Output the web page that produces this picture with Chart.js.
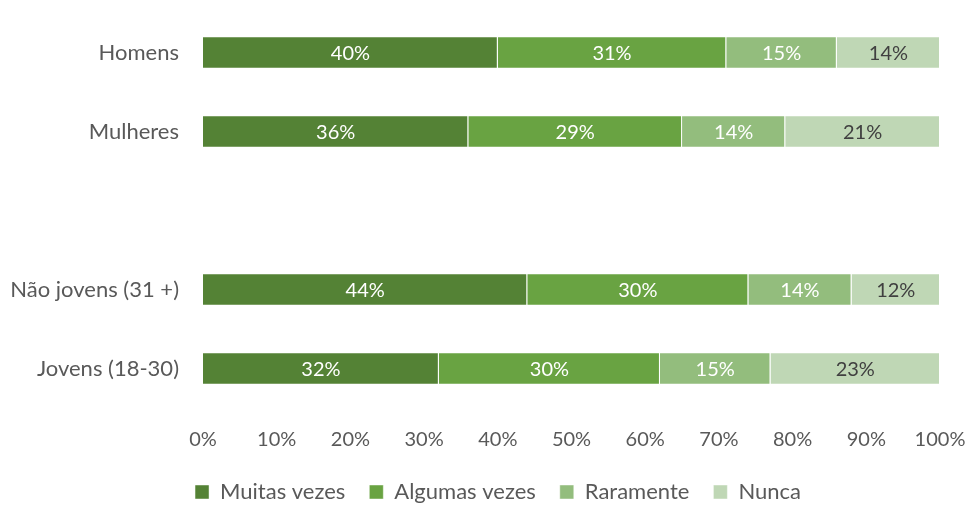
<!DOCTYPE html>
<html>
<head>
<meta charset="utf-8">
<script src="https://cdn.jsdelivr.net/npm/chart.js@4"></script>
<style>
  html, body { margin: 0; padding: 0; background: #fff; }
  #wrap { width: 971px; height: 505px; }
</style>
</head>
<body>
<div id="wrap"><canvas id="grafico"></canvas></div>
<script>
// grupos (a linha vazia separa sexo de idade)
const grupos = ['Homens', 'Mulheres', '', 'Não jovens (31 +)', 'Jovens (18-30)'];
const rotulosSeries = ['Muitas vezes', 'Algumas vezes', 'Raramente', 'Nunca'];

// percentagens por resposta
const muitasVezes   = [40, 36, null, 44, 32];
const algumasVezes  = [31, 29, null, 30, 30];
const raramente     = [15, 14, null, 14, 15];
const nunca         = [14, 21, null, 12, 23];

const ticksX = [0, 10, 20, 30, 40, 50, 60, 70, 80, 90, 100];

const cores = ['#548235', '#69A342', '#93BD7D', '#BFD7B5'];
const coresTexto = ['#ffffff', '#ffffff', '#ffffff', '#404040'];
const fonte = 'Lato, "Open Sans", sans-serif';

// escreve o valor no meio de cada segmento
const rotulosBarras = {
  id: 'rotulosBarras',
  afterDatasetsDraw(chart) {
    const ctx = chart.ctx;
    ctx.save();
    ctx.font = '20px ' + fonte;
    ctx.textAlign = 'center';
    ctx.textBaseline = 'middle';
    chart.data.datasets.forEach((ds, i) => {
      const meta = chart.getDatasetMeta(i);
      meta.data.forEach((bar, j) => {
        const v = ds.data[j];
        if (v == null) return;
        ctx.fillStyle = coresTexto[i];
        ctx.fillText(v + '%', (bar.x + bar.base) / 2, bar.y + 1);
      });
    });
    ctx.restore();
  }
};

// centra a legenda um pouco mais à direita
const legendaDeslocada = {
  id: 'legendaDeslocada',
  afterLayout(chart) {
    chart.legend.left += 28;
    chart.legend.right += 28;
  }
};

const series = [muitasVezes, algumasVezes, raramente, nunca];

new Chart(document.getElementById('grafico'), {
  type: 'bar',
  data: {
    labels: grupos,
    datasets: series.map((d, i) => ({
      label: rotulosSeries[i],
      data: d,
      backgroundColor: cores[i],
      borderColor: 'rgba(255,255,255,0.45)',
      borderWidth: 1,
      categoryPercentage: 1,
      barPercentage: 0.41
    }))
  },
  options: {
    indexAxis: 'y',
    responsive: true,
    maintainAspectRatio: false,
    animation: false,
    layout: { padding: { top: 13, right: 31, left: 0, bottom: -8 } },
    scales: {
      x: {
        stacked: true,
        min: 0,
        max: 100,
        afterBuildTicks: s => { s.ticks = ticksX.map(v => ({ value: v })); },
        afterFit: s => { s.height = 49; s.paddingLeft = 0; s.paddingRight = 0; },
        grid: { display: false, drawTicks: false },
        border: { display: false },
        ticks: {
          color: '#595959',
          font: { family: fonte, size: 20 },
          padding: 20,
          maxRotation: 0,
          callback: v => v + '%'
        }
      },
      y: {
        stacked: true,
        grid: { display: false, drawTicks: false },
        border: { display: false },
        afterFit: s => { s.width = 203; s.paddingTop = 0; s.paddingBottom = 0; },
        ticks: {
          color: '#595959',
          font: { family: fonte, size: 22 },
          padding: 24
        }
      }
    },
    plugins: {
      legend: {
        position: 'bottom',
        labels: {
          color: '#595959',
          font: { family: fonte, size: 22 },
          boxWidth: 14,
          boxHeight: 14,
          padding: 24
        }
      },
      tooltip: { enabled: false }
    }
  },
  plugins: [rotulosBarras, legendaDeslocada]
});
</script>
</body>
</html>
